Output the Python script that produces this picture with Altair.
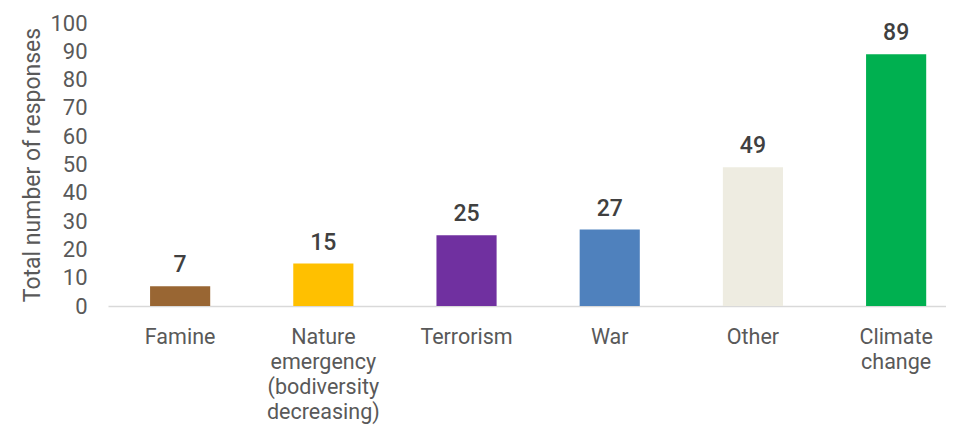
import altair as alt
import pandas as pd

categories = ["Famine", "Nature|emergency|(bodiversity|decreasing)", "Terrorism", "War", "Other", "Climate|change"]
values = [7, 15, 25, 27, 49, 89]
colors = ["#996633", "#FFC000", "#7030A0", "#4F81BD", "#EEECE1", "#00B050"]
y_ticks = [0, 10, 20, 30, 40, 50, 60, 70, 80, 90, 100]

df = pd.DataFrame({"cat": categories, "val": values, "color": colors})

FONT = "Roboto"

xscale = alt.Scale(paddingInner=0.58, paddingOuter=0.216, align=0.68)
yscale = alt.Scale(domain=[0, 100], nice=False)

x_axis = alt.Axis(labelExpr="split(datum.label, '|')", labelAngle=0,
                  labelFontSize=21.5, labelColor="#595959", labelFont=FONT,
                  labelLineHeight=25.2, labelPadding=20, ticks=False,
                  domainColor="#D9D9D9", domainWidth=1.5, labelBaseline="top")
y_axis = alt.Axis(values=y_ticks, grid=False, domain=False, ticks=False,
                  labelOverlap=False,
                  labelFontSize=22, labelColor="#595959", labelFont=FONT, labelPadding=21,
                  titleFontSize=23, titleFont=FONT, titleColor="#595959",
                  titleFontWeight="normal", titlePadding=5)

x = alt.X("cat:N", sort=categories, title=None, scale=xscale, axis=x_axis)
y = alt.Y("val:Q", scale=yscale, title="Total number of responses", axis=y_axis)

bars = alt.Chart(df).mark_bar().encode(
    x=x,
    y=y,
    color=alt.Color("color:N", scale=None),
)

text = alt.Chart(df).mark_text(dy=-14, baseline="alphabetic", fontSize=23, font=FONT,
                               fontWeight=500, color="#404040").encode(
    x=x,
    y=y,
    text="val:Q",
)

chart = (bars + text).properties(
    width=838, height=283,
    autosize=alt.AutoSizeParams(type="none"),
    padding={"left": 100, "top": 15, "right": 0, "bottom": 119},
).configure_view(stroke=None)

chart.save("out.html", embed_options={"renderer": "svg", "actions": False})
